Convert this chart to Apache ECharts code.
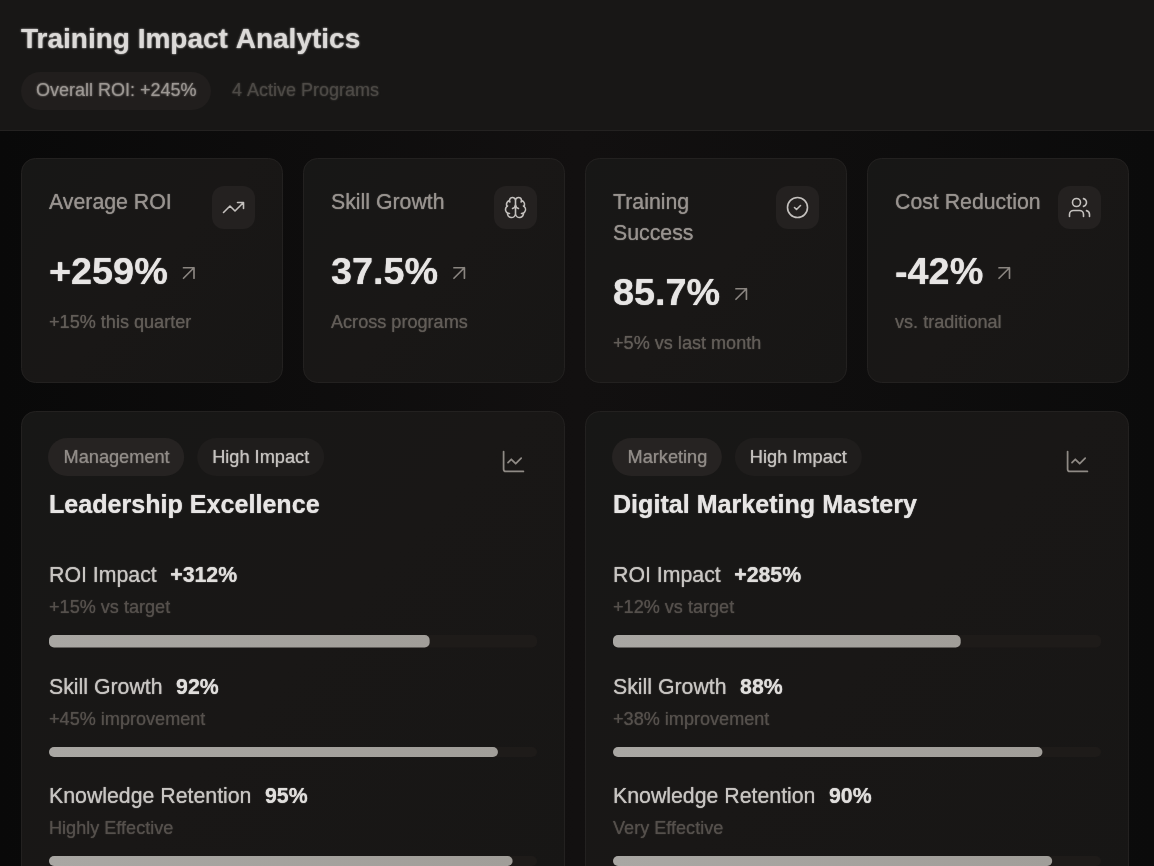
<!DOCTYPE html>
<html>
<head>
<meta charset="utf-8">
<title>Training Impact Analytics</title>
<style>
  html, body { margin: 0; padding: 0; background: #0c0b0c; overflow: hidden; }
  #chart { width: 1154px; height: 866px; }
</style>
<script src="https://cdn.jsdelivr.net/npm/echarts@6/dist/echarts.min.js"></script>
</head>
<body>
<div id="chart"></div>
<script>
// header
const pageTitle = 'Training Impact Analytics'
const overallRoi = 'Overall ROI: +245%'
const activePrograms = '4 Active Programs'

// kpi cards
const kpiTitles = [['Average ROI'], ['Skill Growth'], ['Training', 'Success'], ['Cost Reduction']]
const kpiValues = ['+259%', '37.5%', '85.7%', '-42%']
const kpiNotes = ['+15% this quarter', 'Across programs', '+5% vs last month', 'vs. traditional']

// program cards
const programNames = ['Leadership Excellence', 'Digital Marketing Mastery']
const programTags = ['Management', 'Marketing']
const impactTag = 'High Impact'
const metricNames = ['ROI Impact', 'Skill Growth', 'Knowledge Retention']
const roiValues = [312, 285]
const skillValues = [92, 88]
const retentionValues = [95, 90]
const roiNotes = ['+15% vs target', '+12% vs target']
const skillNotes = ['+45% improvement', '+38% improvement']
const retentionNotes = ['Highly Effective', 'Very Effective']
// the ROI bars run on a 0-400 scale, the others on 0-100
const metricMax = [400, 100, 100]

// lucide icons, registered as graphic shapes
const icons = {
  iconTrend: 'M22 7 13.5 15.5 8.5 10.5 2 17M16 7h6v6',
  iconBrain: 'M12 5a3 3 0 1 0-5.997.125 4 4 0 0 0-2.526 5.77 4 4 0 0 0 .556 6.588A4 4 0 1 0 12 18ZM12 5a3 3 0 1 1 5.997.125 4 4 0 0 1 2.526 5.77 4 4 0 0 1-.556 6.588A4 4 0 1 1 12 18ZM15 13a4.5 4.5 0 0 1-3-4 4.5 4.5 0 0 1-3 4M17.599 6.5a3 3 0 0 0 .399-1.375M6.003 5.125A3 3 0 0 0 6.401 6.5M3.477 10.896a4 4 0 0 1 .585-.396M19.938 10.5a4 4 0 0 1 .585.396M6 18a4 4 0 0 1-1.967-.516M19.967 17.484A4 4 0 0 1 18 18',
  iconCheck: 'M22 12a10 10 0 1 1-20 0 10 10 0 1 1 20 0ZM9 12l2 2 4-4',
  iconUsers: 'M16 21v-2a4 4 0 0 0-4-4H6a4 4 0 0 0-4 4v2M13 7a4 4 0 1 1-8 0 4 4 0 1 1 8 0ZM22 21v-2a4 4 0 0 0-3-3.87M16 3.13a4 4 0 0 1 0 7.75',
  iconArrow: 'M7 7h10v10M7 17 17 7',
  iconChart: 'M3 3v16a2 2 0 0 0 2 2h16M19 9l-5 5-4-4-3 3'
}
Object.keys(icons).forEach(function (name) {
  echarts.graphic.registerShape(name, echarts.graphic.extendPath(icons[name], {}))
})
const kpiIcons = ['iconTrend', 'iconBrain', 'iconCheck', 'iconUsers']

const FONT = '"Liberation Sans", Arial, sans-serif'
const measure = document.createElement('canvas').getContext('2d')

function textWidth(str, size, weight) {
  measure.font = (weight || 'normal') + ' ' + size + 'px "Liberation Sans"'
  return measure.measureText(str).width
}

// y is the visual centre of the line; the reference text is a little soft, so keep a thin shadow
function text(str, x, y, size, fill, weight, extra) {
  return {
    type: 'text',
    silent: true,
    style: Object.assign({
      text: str, x: x, y: y + 1, fill: fill,
      fontSize: size, fontWeight: weight || 'normal', fontFamily: FONT,
      align: 'left', verticalAlign: 'middle',
      textShadowColor: fill, textShadowBlur: 1
    }, extra || {})
  }
}

function box(x, y, w, h, r, fill, stroke) {
  return {
    type: 'rect',
    silent: true,
    shape: { x: x, y: y, width: w, height: h, r: r },
    style: { fill: fill, stroke: stroke || 'none', lineWidth: stroke ? 1 : 0 }
  }
}

function icon(name, cx, cy, scale, color) {
  return {
    type: name,
    silent: true,
    x: cx - 12 * scale,
    y: cy - 12 * scale,
    scaleX: scale,
    scaleY: scale,
    style: { fill: 'none', stroke: color, lineWidth: 1.6, lineCap: 'round', lineJoin: 'round' }
  }
}

function cardFill() {
  return new echarts.graphic.LinearGradient(0, 0, 1, 1, [
    { offset: 0, color: '#171716' },
    { offset: 0.5, color: '#191716' },
    { offset: 1, color: '#171615' }
  ])
}

const graphics = []

// header band, its text is blurred in the reference
graphics.push(box(0, 0, 1154, 130, 0, '#181716'))
graphics.push(box(0, 130, 1154, 1, 0, '#242221'))
const blurred = { textShadowBlur: 2 }
graphics.push(text(pageTitle, 21, 39, 28, '#dcdad8', 'bold', blurred))
graphics.push(box(21, 72, 190, 38, 19, '#211e1d'))
graphics.push(text(overallRoi, 36, 90, 18, '#9c9793', 'normal', blurred))
graphics.push(text(activePrograms, 232, 90, 18, '#4d4a46', 'normal', blurred))

// kpi cards
const kpiX = [21, 303, 585, 867]
kpiTitles.forEach(function (lines, i) {
  const x = kpiX[i]
  const shift = (lines.length - 1) * 21
  graphics.push(box(x + 0.5, 158.5, 261, 224, 14, cardFill(), '#232120'))
  lines.forEach(function (line, j) {
    graphics.push(text(line, x + 28, 202 + j * 31, 21.3, '#98938f'))
  })
  graphics.push(box(x + 191, 186, 43, 43, 12, '#242120'))
  graphics.push(icon(kpiIcons[i], x + 212.5, 207.5, 1, '#c4c1be'))
  graphics.push(text(kpiValues[i], x + 28, 273 + shift, 37.8, '#e7e5e4', 'bold'))
  const valueW = textWidth(kpiValues[i], 37.8, 'bold')
  graphics.push(icon('iconArrow', x + 28 + valueW + 21, 273 + shift, 1.05, '#8a8580'))
  graphics.push(text(kpiNotes[i], x + 28, 322 + shift, 18.1, '#625d58'))
})

// program cards
const cardX = [21, 585]
const metricRows = [
  { values: roiValues, notes: roiNotes, label: 575, note: 607, prefix: '+' },
  { values: skillValues, notes: skillNotes, label: 687, note: 719, prefix: '' },
  { values: retentionValues, notes: retentionNotes, label: 796, note: 828, prefix: '' }
]
programNames.forEach(function (name, i) {
  const x = cardX[i]
  graphics.push(box(x + 0.5, 411.5, 543, 500, 14, cardFill(), '#232120'))
  const tagW = textWidth(programTags[i], 18.2) + 30
  graphics.push(box(x + 27, 438, tagW, 38, 19, '#262322'))
  graphics.push(text(programTags[i], x + 42.5, 457, 18.2, '#908b87'))
  const impactX = x + 27 + tagW + 13
  graphics.push(box(impactX, 438, textWidth(impactTag, 18.2) + 30, 38, 19, '#1f1d1c'))
  graphics.push(text(impactTag, impactX + 15, 457, 18.2, '#c4c1be'))
  graphics.push(icon('iconChart', x + 492.5, 461.5, 1.1, '#8f8a85'))
  graphics.push(text(name, x + 28, 505, 25.1, '#e7e5e4', 'bold'))
  metricRows.forEach(function (row, r) {
    graphics.push(text(metricNames[r], x + 28, row.label, 21.3, '#c8c5c2'))
    const w = textWidth(metricNames[r], 21.3)
    graphics.push(text(row.prefix + row.values[i] + '%', x + 28 + w + 13.5, row.label, 21.3, '#e0dedc', 'bold'))
    graphics.push(text(row.notes[i], x + 28, row.note, 18.1, '#55504c'))
  })
})

// one little grid per progress bar
const barTop = [635, 747, 856]
const barHeight = [12.5, 10, 10]
const barFill = new echarts.graphic.LinearGradient(0, 0, 1, 0, [
  { offset: 0, color: '#a9a7a3' },
  { offset: 1, color: '#a19e99' }
])
const grids = [], xAxes = [], yAxes = [], series = []
programNames.forEach(function (name, i) {
  metricRows.forEach(function (row, r) {
    const idx = grids.length
    grids.push({ left: cardX[i] + 28, width: 488, top: barTop[r], height: barHeight[r] })
    xAxes.push({ type: 'value', gridIndex: idx, min: 0, max: metricMax[r], show: false })
    yAxes.push({ type: 'category', gridIndex: idx, data: [metricNames[r]], show: false })
    series.push({
      type: 'bar',
      xAxisIndex: idx,
      yAxisIndex: idx,
      data: [row.values[i]],
      barWidth: barHeight[r],
      silent: true,
      showBackground: true,
      backgroundStyle: { color: '#1e1b19', borderRadius: 5 },
      itemStyle: { color: barFill, borderRadius: 5 }
    })
  })
})

const myChart = echarts.init(document.getElementById('chart'))
myChart.setOption({
  animation: false,
  backgroundColor: new echarts.graphic.LinearGradient(0, 0, 1, 0, [
    { offset: 0, color: '#090909' },
    { offset: 0.5, color: '#121010' },
    { offset: 1, color: '#0b0b0b' }
  ]),
  tooltip: { show: false },
  graphic: { elements: graphics },
  grid: grids,
  xAxis: xAxes,
  yAxis: yAxes,
  series: series
})
</script>
</body>
</html>
